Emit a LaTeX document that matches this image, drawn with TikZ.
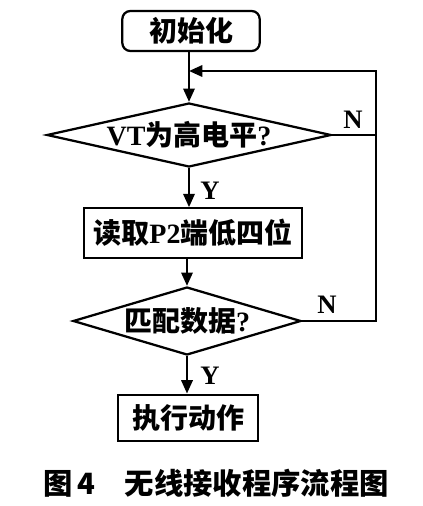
\documentclass[tikz,border=0pt]{standalone}
\usepackage{fontspec}
\setmainfont{Liberation Serif}
\newfontfamily\cjk{Noto Sans CJK SC}
\usetikzlibrary{shapes.geometric,arrows.meta}

\begin{document}
\begin{tikzpicture}[x=0.75pt,y=-0.75pt,line width=1.7pt,
        arr/.style={-{Triangle[length=10pt,width=8.5pt]}},
        procbox/.style={draw,inner sep=0pt,font=\bfseries\fontsize{21}{24}\selectfont},
        decide/.style={draw,diamond,inner sep=0pt,font=\bfseries\fontsize{21}{24}\selectfont},
        yn/.style={font=\bfseries\fontsize{20}{24}\selectfont}]
        \useasboundingbox (0,0) rectangle (423,506);
        % boxes and decisions
        \node[procbox,rounded corners=6pt,minimum width=103pt,minimum height=30pt] (init) at (191,31) {\cjk 初始化};
        \node[decide,aspect=4.45,minimum width=213pt,minimum height=48pt] (vt) at (189,135) {VT{\cjk 为高电平}?};
        \node[procbox,minimum width=163pt,minimum height=37pt] (read) at (193,233) {{\cjk 读取}P2{\cjk 端低四位}};
        \node[decide,aspect=3.35,minimum width=171pt,minimum height=51pt] (match) at (187,321) {{\cjk 匹配数据}?};
        \node[procbox,minimum width=105pt,minimum height=35pt] (act) at (188,418) {\cjk 执行动作};
        % loop back
        \coordinate (join) at (189,71);
        \coordinate (side) at (376,135);
        \draw[arr] (init.south -| join) -- (join) -- (vt.north);
        \draw (vt.east) -- (side);
        \draw[arr] (match.east) -| (side) |- (join);
        \draw[arr] (vt.south) -- (vt.south |- read.north);
        \draw[arr] (read.south -| match.north) -- (match.north);
        \draw[arr] (match.south) -- (match.south |- act.north);
        % labels
        \node[yn] (n1) at (353,120) {N};
        \node[yn] (n2) at (327,305) {N};
        \node[yn] (y1) at (210,191) {Y};
        \node[yn] (y2) at (210,376) {Y};
        \node[font=\cjk\bfseries\fontsize{22}{26}\selectfont] (cap) at (216,483) {图\,4\quad 无线接收程序流程图};
    \end{tikzpicture}
\end{document}
